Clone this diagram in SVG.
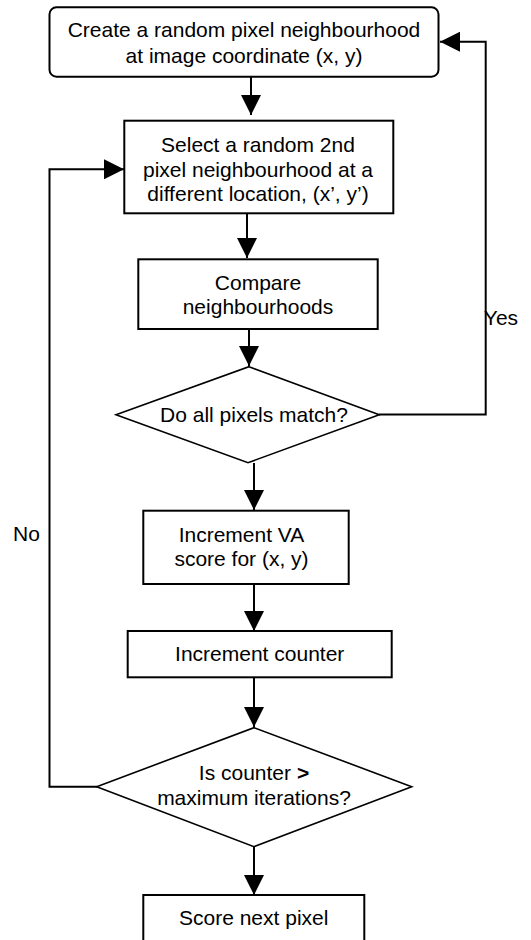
<svg xmlns="http://www.w3.org/2000/svg" width="531" height="940" viewBox="0 0 531 940">
<style>
.box{fill:#fff;stroke:#000;stroke-width:2}
.dia{fill:#fff;stroke:#000;stroke-width:1.6}
.ln{fill:none;stroke:#000;stroke-width:2}
text{font-family:"Liberation Sans",Arial,sans-serif;font-size:21px;fill:#000;text-anchor:middle}
</style>
<defs>
<marker id="ah" markerUnits="userSpaceOnUse" markerWidth="20" markerHeight="20" refX="20" refY="10" orient="auto" viewBox="0 0 20 20">
<path d="M0,0 L20,10 L0,20 z" fill="#000"/>
</marker>
</defs>
<rect width="531" height="940" fill="#fff"/>
<g id="connectors">
<path class="ln" d="M251,76 V115" marker-end="url(#ah)"/>
<path class="ln" d="M247,213 V258" marker-end="url(#ah)"/>
<path class="ln" d="M249,329 V366" marker-end="url(#ah)"/>
<path class="ln" d="M379,414.5 H485.7 V41.7 H440" marker-end="url(#ah)"/>
<path class="ln" d="M254,463 V510" marker-end="url(#ah)"/>
<path class="ln" d="M254,584 V631" marker-end="url(#ah)"/>
<path class="ln" d="M254,677 V727" marker-end="url(#ah)"/>
<path class="ln" d="M97,786.7 H49.5 V169.3 H124" marker-end="url(#ah)"/>
<path class="ln" d="M254,847 V895" marker-end="url(#ah)"/>
</g>
<g id="start">
<rect class="box" x="49.5" y="7.3" width="389" height="69.4" rx="7"/>
<text x="244" y="37">Create a random pixel neighbourhood</text>
<text x="244" y="63">at image coordinate (x, y)</text>
</g>
<g id="select">
<rect class="box" x="124.3" y="120.7" width="269" height="92.6"/>
<text x="258" y="152">Select a random 2nd</text>
<text x="258" y="177">pixel neighbourhood at a</text>
<text x="258" y="201">different location, (x’, y’)</text>
</g>
<g id="compare">
<rect class="box" x="138.3" y="259.3" width="239.4" height="69.7"/>
<text x="258" y="290">Compare</text>
<text x="258" y="314">neighbourhoods</text>
</g>
<g id="match">
<polygon class="dia" points="249,366.7 379.3,414.7 248,462.7 116,414.7"/>
<text x="254" y="421.5">Do all pixels match?</text>
</g>
<g id="yes-label"><text x="501" y="325">Yes</text></g>
<g id="no-label"><text x="26.5" y="541">No</text></g>
<g id="increment-va">
<rect class="box" x="143.3" y="510.7" width="205.4" height="73.3"/>
<text x="241.5" y="542">Increment VA</text>
<text x="241.5" y="566">score for (x, y)</text>
</g>
<g id="increment-counter">
<rect class="box" x="127.7" y="631" width="264" height="46.3"/>
<text x="259.7" y="661">Increment counter</text>
</g>
<g id="max-iter">
<polygon class="dia" points="254,727.7 411.7,786.7 254,846.7 96.7,786.7"/>
<text x="254" y="780">Is counter <tspan font-weight="bold">&gt;</tspan></text>
<text x="254" y="805">maximum iterations?</text>
</g>
<g id="score-next">
<rect class="box" x="143.3" y="895" width="221" height="60"/>
<text x="253.7" y="925">Score next pixel</text>
</g>
</svg>
